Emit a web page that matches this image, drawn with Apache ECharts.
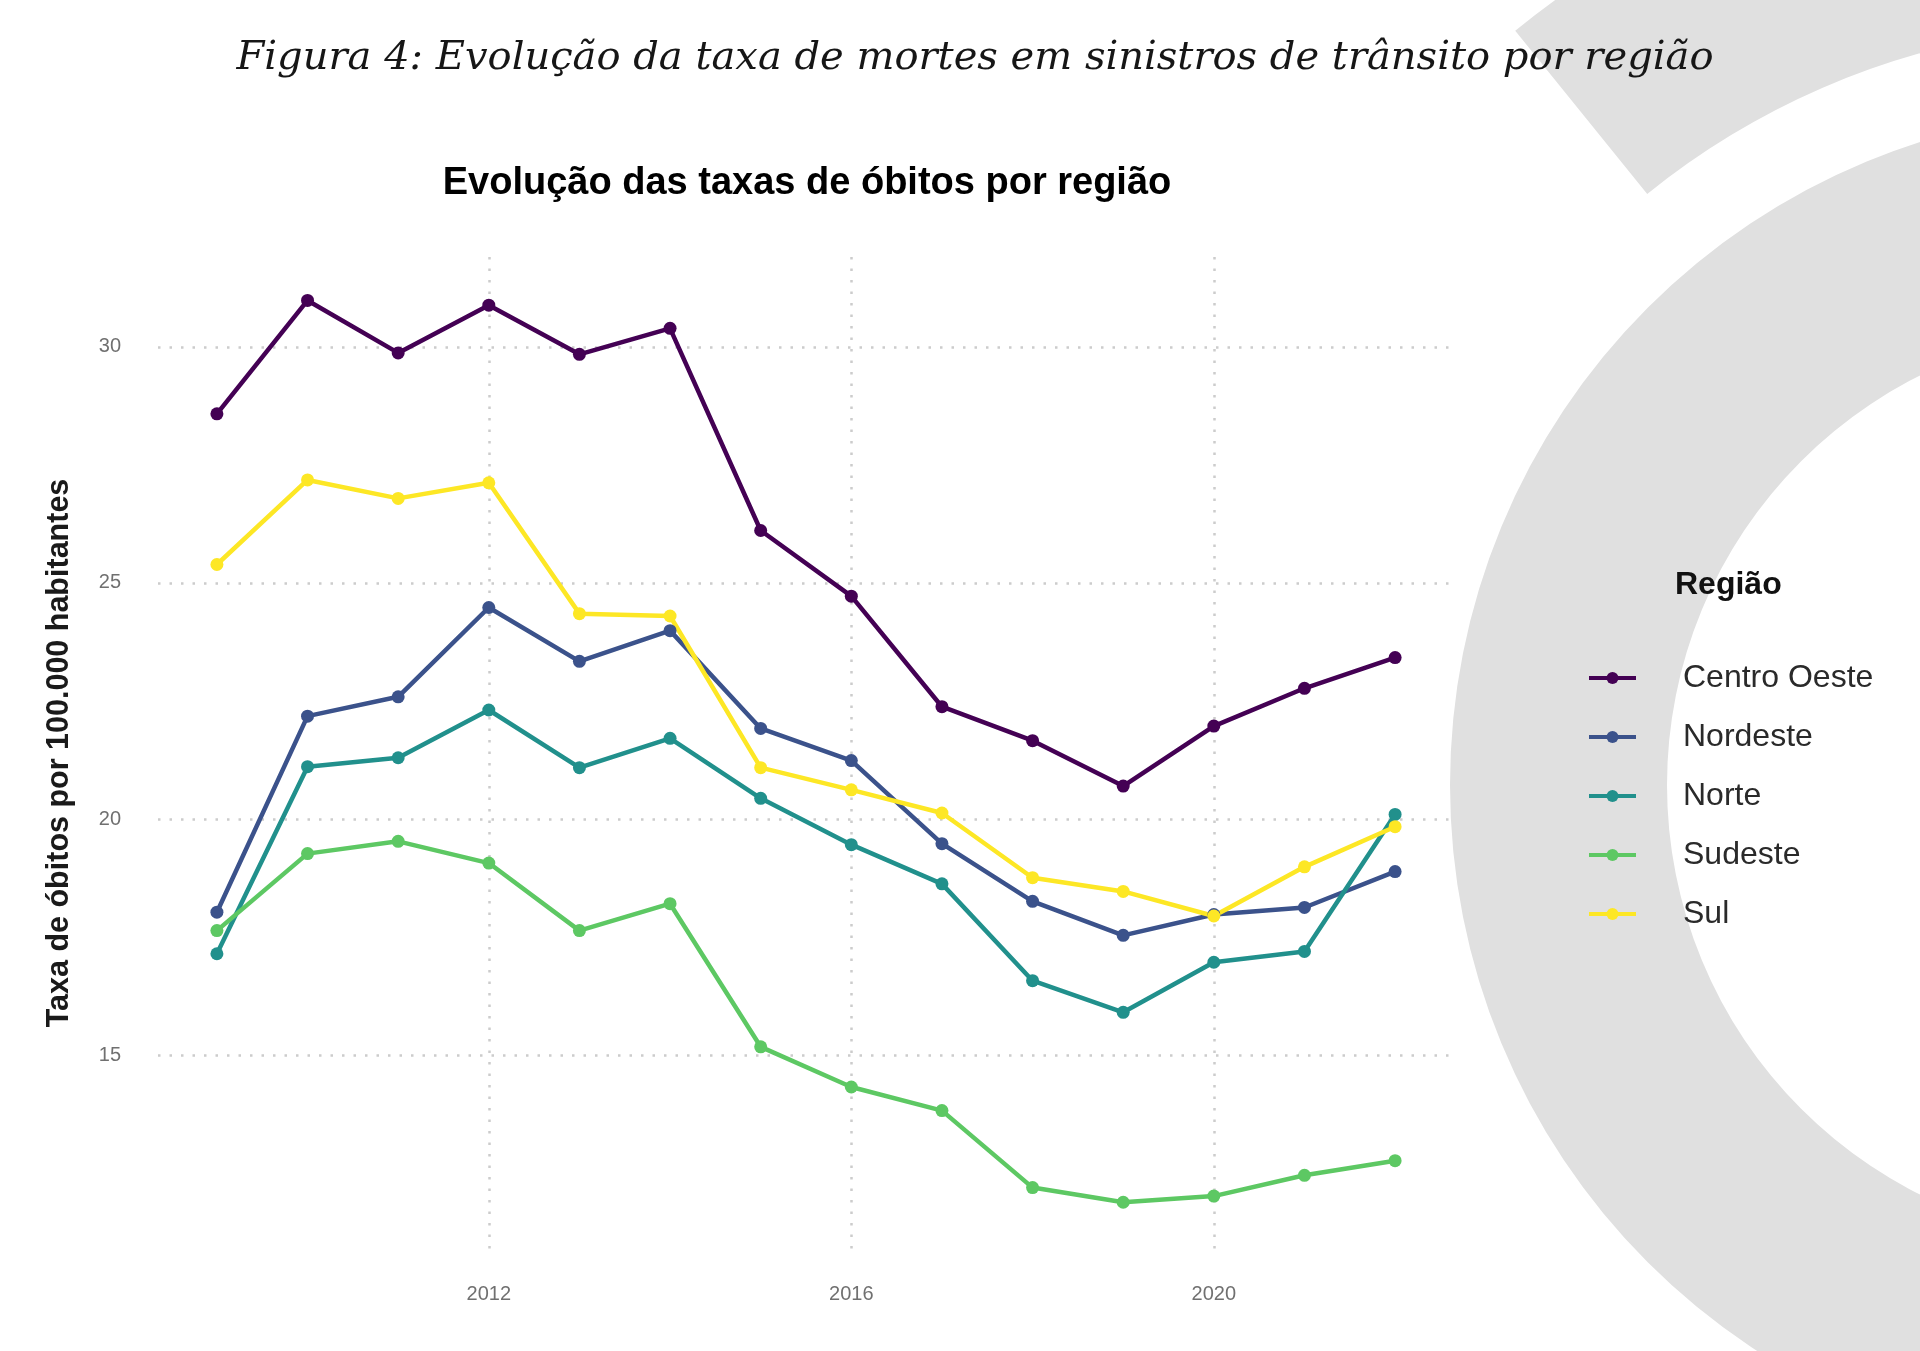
<!DOCTYPE html>
<html>
<head>
<meta charset="utf-8">
<script src="https://cdn.jsdelivr.net/npm/echarts@6.0.0/dist/echarts.min.js"></script>
<style>
html,body{margin:0;padding:0;background:#ffffff;}
#chart{width:1920px;height:1351px;}
</style>
</head>
<body>
<div id="chart"></div>
<script>
// ---- data ----
var years = [2009, 2010, 2011, 2012, 2013, 2014, 2015, 2016, 2017, 2018, 2019, 2020, 2021, 2022];
var regions = ['Centro Oeste', 'Nordeste', 'Norte', 'Sudeste', 'Sul'];
var centroOeste = [28.58, 30.98, 29.87, 30.88, 29.84, 30.39, 26.11, 24.72, 22.38, 21.66, 20.70, 21.97, 22.77, 23.42];
var nordeste    = [18.03, 22.18, 22.59, 24.48, 23.34, 23.99, 21.92, 21.24, 19.48, 18.26, 17.54, 17.98, 18.13, 18.89];
var norte       = [17.15, 21.11, 21.30, 22.31, 21.09, 21.71, 20.44, 19.46, 18.63, 16.58, 15.91, 16.97, 17.20, 20.10];
var sudeste     = [17.64, 19.27, 19.53, 19.07, 17.64, 18.21, 15.18, 14.33, 13.83, 12.20, 11.89, 12.02, 12.46, 12.77];
var sul         = [25.39, 27.18, 26.79, 27.12, 24.35, 24.30, 21.09, 20.62, 20.13, 18.76, 18.47, 17.95, 18.99, 19.84];
var xTicks = [2012, 2016, 2020];
var yTicks = [15, 20, 25, 30];
var colors = ['#440154', '#3B528B', '#21908C', '#5DC863', '#FDE725'];

var seriesValues = [centroOeste, nordeste, norte, sudeste, sul];

var chart = echarts.init(document.getElementById('chart'), null, {renderer: 'canvas'});

var gridLine = {show: true, lineStyle: {color: '#cccccc', width: 2.5, type: [2.5, 9]}};

var series = regions.map(function (name, i) {
  return {
    name: name,
    type: 'line',
    symbol: 'circle',
    symbolSize: 13,
    showSymbol: true,
    data: years.map(function (y, j) { return [y, seriesValues[i][j]]; }),
    lineStyle: {color: colors[i], width: 4.5},
    itemStyle: {color: colors[i]},
    emphasis: {disabled: true},
    z: 2
  };
});

var option = {
  animation: false,
  backgroundColor: '#ffffff',
  color: colors,
  graphic: [
    {type: 'ring', z: -10, silent: true,
     shape: {cx: 2125, cy: 785, r: 675, r0: 458},
     style: {fill: '#e0e0e0'}},
    {type: 'sector', z: -10, silent: true,
     shape: {cx: 2125, cy: 785, r: 970, r0: 760, startAngle: -2.2506, endAngle: 0.4, clockwise: true},
     style: {fill: '#e0e0e0'}}
  ],
  title: [
    {text: 'Figura 4: Evolução da taxa de mortes em sinistros de trânsito por região',
     left: 975, top: 59, textAlign: 'center', textVerticalAlign: 'middle', padding: 0,
     textStyle: {fontFamily: 'DejaVu Serif', fontStyle: 'italic', fontWeight: 'normal', fontSize: 40, color: '#161616'}},
    {text: 'Evolução das taxas de óbitos por região',
     left: 807, top: 184, textAlign: 'center', textVerticalAlign: 'middle', padding: 0,
     textStyle: {fontFamily: 'Liberation Sans', fontWeight: 'bold', fontSize: 38, color: '#000000'}},
    {text: 'Região',
     left: 1675, top: 585, textAlign: 'left', textVerticalAlign: 'middle', padding: 0,
     textStyle: {fontFamily: 'Liberation Sans', fontWeight: 'bold', fontSize: 32, color: '#111111'}}
  ],
  legend: {
    orient: 'vertical',
    left: 1587,
    top: 661,
    padding: 0,
    itemWidth: 47,
    itemHeight: 15,
    itemGap: 25,
    data: regions,
    selectedMode: false,
    lineStyle: {width: 4},
    textStyle: {fontFamily: 'Liberation Sans', fontSize: 32, color: '#2a2a2a', lineHeight: 34, padding: [0, 0, 0, 42]}
  },
  grid: {left: 158, right: 466, top: 257, bottom: 102, containLabel: false, outerBoundsMode: 'none'},
  xAxis: {
    type: 'value',
    min: 2008.35,
    max: 2022.65,
    axisLine: {show: false},
    axisTick: {show: false, customValues: xTicks},
    axisLabel: {customValues: xTicks, margin: 35, fontFamily: 'Liberation Sans', fontSize: 20, color: '#707070',
                formatter: function (v) { return String(v); }},
    splitLine: gridLine
  },
  yAxis: {
    type: 'value',
    min: 10.9,
    max: 31.9,
    name: 'Taxa de óbitos por 100.000 habitantes',
    nameLocation: 'middle',
    nameGap: 83,
    nameTextStyle: {fontFamily: 'Liberation Sans', fontWeight: 'bold', fontSize: 30.5, color: '#1a1a1a'},
    axisLine: {show: false},
    axisTick: {show: false, customValues: yTicks},
    axisLabel: {customValues: yTicks, margin: 37, fontFamily: 'Liberation Sans', fontSize: 20, color: '#707070'},
    splitLine: gridLine
  },
  series: series
};

chart.setOption(option);
</script>
</body>
</html>
